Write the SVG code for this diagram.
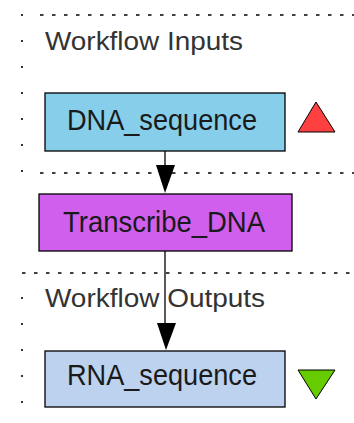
<svg xmlns="http://www.w3.org/2000/svg" width="354" height="423" viewBox="0 0 354 423">
<style>
.bg{fill:#ffffff}
.hd{fill:none;stroke:#000;stroke-width:1.3;stroke-dasharray:3.5 8.5}
.vd{fill:none;stroke:#000;stroke-width:1.6;stroke-dasharray:2 24}
.node{stroke:#000;stroke-width:1.3}
.lbl{font-family:"Liberation Sans",Arial,sans-serif;font-size:30px;fill:#1a1a1a;text-anchor:start}
.sec{font-family:"Liberation Sans",Arial,sans-serif;font-size:25px;fill:#333}
.edge{stroke:#000;stroke-width:1.3;fill:none}
.ah{fill:#000}
</style>
<rect class="bg" width="354" height="423"/>
<g id="boundaries">
<line class="hd" x1="40" y1="15" x2="354" y2="15"/>
<line class="vd" x1="22" y1="14" x2="22" y2="175"/>
<line class="hd" x1="40" y1="173" x2="354" y2="173"/>
<line class="hd" x1="22" y1="273" x2="354" y2="273"/>
<line class="vd" x1="22" y1="297" x2="22" y2="423"/>
<text class="sec" x="45" y="50" textLength="198" lengthAdjust="spacingAndGlyphs">Workflow Inputs</text>
<text class="sec" x="45" y="307" textLength="220" lengthAdjust="spacingAndGlyphs">Workflow Outputs</text>
</g>
<g id="connectors">
<line class="edge" x1="165" y1="151" x2="165" y2="180"/>
<polygon class="ah" points="156,165 175,165 165,193"/>
<line class="edge" x1="165" y1="251" x2="165" y2="335"/>
<polygon class="ah" points="157,323 176,323 166,350"/>
</g>
<g id="DNA_sequence">
<rect class="node" x="45" y="93" width="240" height="58" fill="#87CEEB"/>
<text class="lbl" x="67" y="130" textLength="190" lengthAdjust="spacingAndGlyphs">DNA_sequence</text>
<polygon points="316,102 335,132 298,132" fill="#FF4040" stroke="#000" stroke-width="1"/>
</g>
<g id="Transcribe_DNA">
<rect class="node" x="39" y="194" width="253" height="57" fill="#D15FEE"/>
<text class="lbl" x="63" y="232" textLength="202" lengthAdjust="spacingAndGlyphs">Transcribe_DNA</text>
</g>
<g id="RNA_sequence">
<rect class="node" x="45" y="351" width="240" height="56" fill="#BCD2EE"/>
<text class="lbl" x="67" y="385" textLength="190" lengthAdjust="spacingAndGlyphs">RNA_sequence</text>
<polygon points="298,370 335,370 316,399" fill="#66CC00" stroke="#000" stroke-width="1"/>
</g>
</svg>
